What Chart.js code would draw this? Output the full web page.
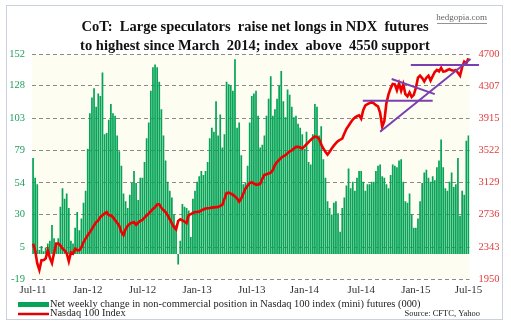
<!DOCTYPE html>
<html>
<head>
<meta charset="utf-8">
<script src="https://cdn.jsdelivr.net/npm/chart.js@4.4.1/dist/chart.umd.min.js"></script>
<style>
  html, body { margin: 0; padding: 0; background: #fff; }
  #wrap { width: 511px; height: 333px; }
</style>
</head>
<body>
<div id="wrap"><canvas id="cotChart" width="511" height="333"></canvas></div>
<script>
// weekly net change in non-commercial NDX mini futures (000), Jul-11 .. Jul-15
const netChange = [
  73, 58, 53, 3, 6, 2, 5, 8, 10, 22, 12, 6, 12, 36, 50, 42, 46, 35, 10, 8, 20, 32, 18, 27, 39, 48, 80, 107, 119, 126, 112, 122, 120, 138, 91, 92, 102, 114, 107, 105, 90,
  78, 67, 46, 40, 35, 45, 54, 63, 54, 41, 58, 58, 70, 88, 100, 124, 142, 144, 142, 131, 110, 90, 71, 55, 48, 43, 30, 22, -8, 10, 38, 36, 35, 33, 13, 42, 48, 55, 59, 63, 60, 63, 70, 88,
  96, 93, 116, 90, 106, 81, 91, 131, 129, 128, 124, 148, 96, 100, 75, 53, 54, 67, 100, 120, 122, 124, 105, 81, 83, 90, 105, 118, 135, 105, 110, 118, 128, 139, 116, 104, 125, 121, 112, 104, 105, 99, 96,
  91, 80, 93, 70, 68, 91, 114, 112, 90, 97, 72, 58, 40, 35, 30, 39, 40, 31, 17, 35, 43, 52, 65, 50, 55, 48, 58, 63, 63, 55, 48, 53, 53, 55, 55, 63, 67, 68, 59, 58, 53, 50, 60,
  68, 67, 66, 71, 72, 55, 40, 39, 46, 30, 20, 20, 27, 40, 54, 62, 64, 58, 55, 59, 56, 66, 71, 87, 66, 50, 48, 55, 62, 51, 53, 73, 29, 48, 45, 86, 90
];

// Nasdaq 100 index, same weeks
const ndx = [
  2383, 2300, 2140, 2060, 2179, 2179, 2200, 2300, 2210, 2145, 2270, 2383, 2383, 2360, 2320, 2300, 2265, 2165, 2275, 2260, 2318, 2302, 2301, 2338, 2400, 2444, 2485, 2520, 2563, 2605, 2643, 2666, 2707, 2730, 2750, 2768, 2730, 2728, 2705, 2670, 2637,
  2600, 2525, 2487, 2560, 2600, 2625, 2638, 2645, 2612, 2640, 2660, 2672, 2700, 2726, 2751, 2778, 2806, 2828, 2860, 2862, 2820, 2793, 2768, 2727, 2680, 2630, 2583, 2556, 2660, 2680, 2666, 2653, 2633, 2730, 2743, 2757, 2768, 2770, 2773, 2787, 2800, 2812, 2815, 2818,
  2822, 2825, 2828, 2830, 2845, 2858, 2930, 3000, 3005, 2993, 2980, 2960, 2934, 2895, 2935, 2995, 3056, 3090, 3125, 3130, 3117, 3103, 3103, 3115, 3175, 3222, 3230, 3240, 3250, 3280, 3345, 3380, 3405, 3432, 3450, 3462, 3488, 3509, 3522, 3545, 3565, 3565, 3557,
  3545, 3570, 3597, 3624, 3650, 3672, 3691, 3685, 3662, 3595, 3545, 3506, 3470, 3505, 3545, 3580, 3610, 3636, 3652, 3667, 3728, 3785, 3824, 3862, 3898, 3923, 3940, 3950, 3910, 4015, 4072, 4087, 4100, 4113, 4098, 4075, 4061, 3980, 3810, 3880, 4100, 4207, 4280,
  4335, 4330, 4257, 4341, 4250, 4330, 4210, 4182, 4230, 4175, 4200, 4285, 4410, 4435, 4405, 4365, 4410, 4435, 4375, 4430, 4480, 4505, 4488, 4530, 4485, 4490, 4504, 4515, 4500, 4495, 4504, 4470, 4435, 4540, 4606, 4586, 4647
];

// weekly categories (Tuesdays)
const weeks = netChange.map((_, i) => new Date(Date.UTC(2011, 6, 5 + 7 * i)).toISOString().slice(0, 10));

const xTickIdx = [0, 26, 52, 78, 104, 129, 156, 182, 207];
const xTickLabels = ['Jul-11', 'Jan-12', 'Jul-12', 'Jan-13', 'Jul-13', 'Jan-14', 'Jul-14', 'Jan-15', 'Jul-15'];
const leftTicks = [-19, 5, 30, 54, 79, 103, 128, 152];
const rightTicks = [1950, 2343, 2736, 3129, 3522, 3915, 4307, 4700];

// purple trend lines on the index: [week, level] -> [week, level]
const trendFrom = [[156.8, 4130], [179.6, 4566], [165, 3750], [170.5, 4395]];
const trendTo   = [[190, 4130], [212, 4566], [208, 4640], [191, 4210]];

const serif = "'Liberation Serif', 'Times New Roman', serif";

const extras = {
    id: 'extras',
    beforeDraw(chart) {
        const { ctx, chartArea: a } = chart;
        ctx.save();
        ctx.fillStyle = '#fdfdf2';
        ctx.fillRect(a.left, a.top, a.right - a.left, a.bottom - a.top);
        ctx.strokeStyle = '#c9d1dd';
        ctx.lineWidth = 1;
        ctx.strokeRect(6.5, 5.5, 496, 314);
        ctx.restore();
    },
    afterDatasetsDraw(chart) {
        const { ctx, scales } = chart;
        ctx.save();
        ctx.strokeStyle = '#7a3fb0';
        ctx.lineWidth = 2;
        trendFrom.forEach((p, k) => {
            const q = trendTo[k];
            ctx.beginPath();
            ctx.moveTo(scales.x.getPixelForValue(p[0]), scales.y2.getPixelForValue(p[1]));
            ctx.lineTo(scales.x.getPixelForValue(q[0]), scales.y2.getPixelForValue(q[1]));
            ctx.stroke();
        });
        ctx.restore();
    },
    afterDraw(chart) {
        const { ctx } = chart;
        ctx.save();
        // title
        ctx.fillStyle = '#111';
        ctx.textAlign = 'center';
        ctx.textBaseline = 'middle';
        ctx.font = 'bold 14.5px ' + serif;
        ctx.fillText('CoT:  Large speculators  raise net longs in NDX  futures', 255, 27.5);
        ctx.fillText('to highest since March  2014; index  above  4550 support', 255, 46.5);
        // site tag
        ctx.font = '9px ' + serif;
        ctx.fillStyle = '#666';
        ctx.textAlign = 'right';
        ctx.fillText('hedgopia.com', 487, 18);
        ctx.fillRect(437, 23, 50, 0.7);
        // legend
        ctx.fillStyle = '#05a457';
        ctx.fillRect(18, 302, 31, 5);
        ctx.strokeStyle = '#e00000';
        ctx.lineWidth = 2.5;
        ctx.beginPath();
        ctx.moveTo(18, 314);
        ctx.lineTo(49, 314);
        ctx.stroke();
        ctx.fillStyle = '#222';
        ctx.textAlign = 'left';
        ctx.font = '10.4px ' + serif;
        ctx.fillText('Net weekly change in non-commercial position in Nasdaq 100 index (mini) futures (000)', 50, 304.5);
        ctx.fillText('Nasdaq 100 Index', 50, 313.5);
        ctx.font = '8.5px ' + serif;
        ctx.textAlign = 'right';
        ctx.fillText('Source: CFTC, Yahoo', 480, 314);
        ctx.restore();
    }
};

new Chart(document.getElementById('cotChart').getContext('2d'), {
    type: 'bar',
    data: {
        labels: weeks,
        datasets: [
            {
                type: 'line',
                label: 'Nasdaq 100 Index',
                data: ndx,
                yAxisID: 'y2',
                borderColor: '#ee0000',
                borderWidth: 2.6,
                pointRadius: 0,
                tension: 0,
                order: 0
            },
            {
                label: 'Net weekly change in non-commercial position in Nasdaq 100 index (mini) futures (000)',
                data: netChange,
                yAxisID: 'y',
                backgroundColor: '#05a457',
                categoryPercentage: 1,
                barPercentage: 0.82,
                order: 1
            }
        ]
    },
    options: {
        responsive: false,
        animation: false,
        devicePixelRatio: 1,
        layout: { padding: { top: 54, left: 0, right: 0, bottom: 0 } },
        plugins: { legend: { display: false }, tooltip: { enabled: false } },
        scales: {
            x: {
                grid: { display: false, drawTicks: false },
                border: { display: false },
                afterFit: (s) => { s.height = 54; },
                afterBuildTicks: (s) => { s.ticks = xTickIdx.map(v => ({ value: v })); },
                ticks: {
                    autoSkip: false,
                    maxRotation: 0,
                    padding: 5,
                    color: '#333',
                    font: { family: serif, size: 11 },
                    callback: (v, i) => xTickLabels[i]
                }
            },
            y: {
                position: 'left',
                min: -19,
                max: 152,
                afterFit: (s) => { s.width = 32; },
                afterBuildTicks: (s) => { s.ticks = leftTicks.map(v => ({ value: v })); },
                grid: { color: '#8a8a8a', lineWidth: 1, drawTicks: false },
                border: { display: false, dash: [4, 3] },
                ticks: {
                    padding: 7,
                    color: '#1f9e5c',
                    font: { family: serif, size: 10.5 },
                    callback: (v) => Math.round(v)
                }
            },
            y2: {
                position: 'right',
                min: 1950,
                max: 4700,
                afterFit: (s) => { s.width = 41.5; },
                afterBuildTicks: (s) => { s.ticks = rightTicks.map(v => ({ value: v })); },
                grid: { display: false, drawTicks: false },
                border: { display: false },
                ticks: {
                    padding: 9,
                    color: '#e03a3a',
                    font: { family: serif, size: 10.5 },
                    callback: (v) => Math.round(v)
                }
            }
        }
    },
    plugins: [extras]
});
</script>
</body>
</html>
